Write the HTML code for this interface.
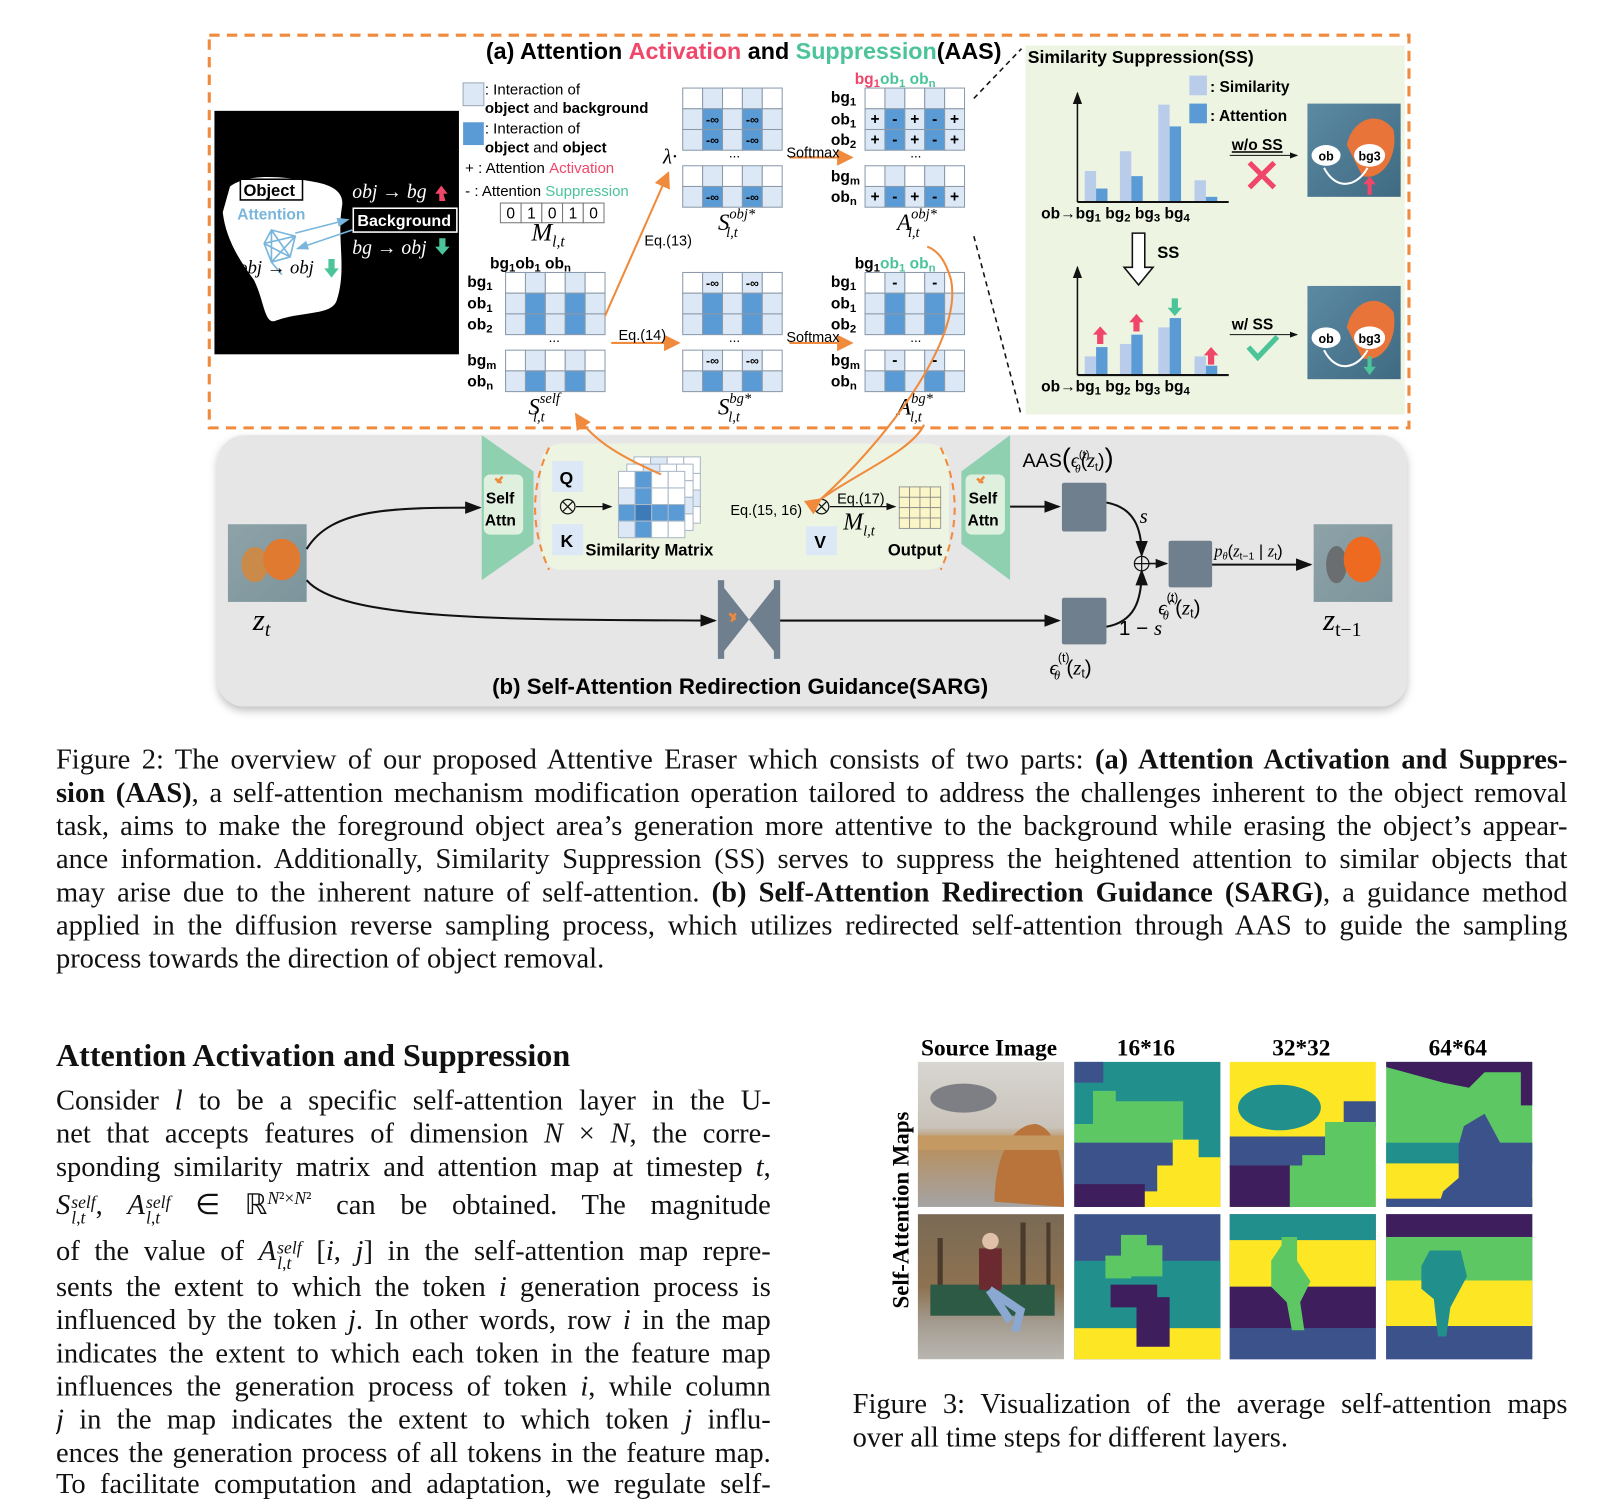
<!DOCTYPE html>
<html><head><meta charset="utf-8">
<style>
html,body{margin:0;padding:0;background:#fff;width:1624px;height:1484px;overflow:hidden}
#w{position:absolute;left:0;top:0;width:1568px;height:1432px;transform:scale(1.036);transform-origin:0 0}
.t{position:absolute;font-family:"Liberation Serif",serif;font-size:27.5px;line-height:32px;height:32px;white-space:nowrap;color:#111}
.j{text-align:justify;text-align-last:justify;white-space:normal;overflow:hidden}
i{font-style:italic}
.ss{display:inline-block;font-size:17px;line-height:15px;vertical-align:-9px;margin-left:1px}
svg text{font-family:"Liberation Sans",sans-serif}
.m{font-family:"Liberation Serif",serif;font-style:italic}
</style></head><body><div id="w">
<svg id="s" width="1568" height="1432" style="position:absolute;left:0;top:0">
<defs>
<marker id="ao" markerWidth="8" markerHeight="8" refX="7" refY="4" orient="auto"><path d="M0,0 L8,4 L0,8 z" fill="#f08a3c"/></marker>
<marker id="ab" markerWidth="8" markerHeight="8" refX="7" refY="4" orient="auto"><path d="M0,1 L8,4 L0,7 z" fill="#111"/></marker>
<marker id="al" markerWidth="8" markerHeight="8" refX="7" refY="4" orient="auto"><path d="M0,1 L8,4 L0,7 z" fill="#7ab6dc"/></marker>
<filter id="sh"><feDropShadow dx="0" dy="4" stdDeviation="4" flood-opacity="0.25"/></filter>
<linearGradient id="blu" x1="0" y1="0" x2="1" y2="1"><stop offset="0" stop-color="#5b8aa2"/><stop offset="1" stop-color="#3f6a82"/></linearGradient>
<linearGradient id="zt" x1="0" y1="0" x2="1" y2="1"><stop offset="0" stop-color="#8ea3a8"/><stop offset="1" stop-color="#7d949c"/></linearGradient>
<linearGradient id="src1" x1="0" y1="0" x2="0" y2="1"><stop offset="0" stop-color="#d8d6d2"/><stop offset="0.45" stop-color="#c9c3ba"/><stop offset="0.55" stop-color="#b98e5a"/><stop offset="1" stop-color="#a4a3a4"/></linearGradient>
<linearGradient id="src2" x1="0" y1="0" x2="0" y2="1"><stop offset="0" stop-color="#7a6a55"/><stop offset="0.5" stop-color="#8d7250"/><stop offset="0.75" stop-color="#a49c90"/><stop offset="1" stop-color="#b9b6b0"/></linearGradient>
</defs>

<rect x="202" y="34" width="1158" height="379" fill="#fff" stroke="#f08a3c" stroke-width="3" stroke-dasharray="10 7"/>
<text x="469" y="57" font-size="22.5" font-weight="bold">(a) Attention <tspan fill="#f0466a">Activation</tspan> and <tspan fill="#4cc49a">Suppression</tspan>(AAS)</text>

<rect x="207" y="107" width="236" height="235" fill="#000"/>
<path d="M222,180 C235,170 260,168 300,175 C320,178 333,185 330,200 C325,230 335,260 325,290 C320,305 290,300 265,310 C255,312 255,290 245,270 C230,250 218,230 215,205 Z" fill="#fff"/>
<rect x="232" y="173" width="60" height="20" fill="#fff" stroke="#000" stroke-width="1.5"/>
<text x="235" y="189" font-size="16" font-weight="bold">Object</text>
<text x="229" y="212" font-size="15" font-weight="bold" fill="#7ab6dc">Attention</text>
<g stroke="#7ab6dc" stroke-width="1.6" fill="none"><path d="M262,222 L285,228 L280,248 L262,253 L255,235 Z M262,222 L280,248 M262,222 L262,253 M285,228 L262,253 M285,228 L255,235 M255,235 L280,248 M262,253 L272,265"/></g>
<line x1="285" y1="225" x2="336" y2="212" stroke="#7ab6dc" stroke-width="1.5" marker-end="url(#al)"/>
<line x1="340" y1="222" x2="287" y2="240" stroke="#7ab6dc" stroke-width="1.5" marker-end="url(#al)"/>
<text x="340" y="191" font-size="19" fill="#fff" class="m">obj → bg</text>
<path d="M428,178 l-6,0 l0,-7 l-4,0 l6,-8 l6,8 l-4,0 z" fill="#f0466a" transform="translate(2,16)"/>
<rect x="341" y="201" width="100" height="23" fill="#000" stroke="#fff" stroke-width="1.5"/>
<text x="345" y="218" font-size="15.5" font-weight="bold" fill="#fff">Background</text>
<text x="340" y="245" font-size="19" fill="#fff" class="m">bg → obj</text>
<path d="M424,230 h6 v8 h4 l-7,8 l-7,-8 h4 z" fill="#4cc49a"/>
<text x="230" y="264" font-size="18" fill="#000" class="m">obj → obj</text>
<path d="M317,250 h6 v9 h4 l-7,9 l-7,-9 h4 z" fill="#4cc49a"/>

<rect x="447" y="80" width="20" height="22" fill="#dce8f5" stroke="#9aa9b8"/>
<text x="468" y="91" font-size="14.5">: Interaction of</text>
<text x="468" y="109" font-size="14.5" font-weight="bold">object <tspan font-weight="normal">and</tspan> background</text>
<rect x="447" y="118" width="20" height="22" fill="#5b9bd5"/>
<text x="468" y="129" font-size="14.5">: Interaction of</text>
<text x="468" y="147" font-size="14.5" font-weight="bold">object <tspan font-weight="normal">and</tspan> object</text>
<text x="449" y="167" font-size="14.5">+ : Attention <tspan fill="#f0466a">Activation</tspan></text>
<text x="449" y="189" font-size="14.5">- : Attention <tspan fill="#4cc49a">Suppression</tspan></text>
<g id="mbox"></g>
<text x="513" y="232" font-size="24" class="m">M<tspan font-size="15" dy="6">l,t</tspan></text>

<g id="grids"></g>

<text x="473" y="259" font-size="15" font-weight="bold">bg<tspan font-size="11" dy="3">1</tspan><tspan dy="-3">ob</tspan><tspan font-size="11" dy="3">1</tspan><tspan dy="-3"> ob</tspan><tspan font-size="11" dy="3">n</tspan></text>
<text x="825" y="81" font-size="15" font-weight="bold"><tspan fill="#f0466a">bg</tspan><tspan fill="#f0466a" font-size="11" dy="3">1</tspan><tspan dy="-3" fill="#4cc49a">ob</tspan><tspan fill="#4cc49a" font-size="11" dy="3">1</tspan><tspan dy="-3" fill="#4cc49a"> ob</tspan><tspan fill="#4cc49a" font-size="11" dy="3">n</tspan></text>
<text x="825" y="259" font-size="15" font-weight="bold">bg<tspan font-size="11" dy="3">1</tspan><tspan dy="-3" fill="#4cc49a">ob</tspan><tspan fill="#4cc49a" font-size="11" dy="3">1</tspan><tspan dy="-3" fill="#4cc49a"> ob</tspan><tspan fill="#4cc49a" font-size="11" dy="3">n</tspan></text>
<g id="rowlab" font-size="15" font-weight="bold"></g>
<text x="510" y="400" font-size="22" class="m">S<tspan font-size="14" dy="-11">self</tspan><tspan font-size="14" dx="-26" dy="18">l,t</tspan></text>
<text x="693" y="222" font-size="22" class="m">S<tspan font-size="14" dy="-11">obj*</tspan><tspan font-size="14" dx="-28" dy="18">l,t</tspan></text>
<text x="693" y="400" font-size="22" class="m">S<tspan font-size="14" dy="-11">bg*</tspan><tspan font-size="14" dx="-22" dy="18">l,t</tspan></text>
<text x="866" y="222" font-size="22" class="m">A<tspan font-size="14" dy="-11">obj*</tspan><tspan font-size="14" dx="-28" dy="18">l,t</tspan></text>
<text x="866" y="400" font-size="22" class="m">A<tspan font-size="14" dy="-11">bg*</tspan><tspan font-size="14" dx="-22" dy="18">l,t</tspan></text>

<line x1="584" y1="305" x2="645" y2="167" stroke="#f08a3c" stroke-width="2" marker-end="url(#ao)"/>
<text x="622" y="237" font-size="14">Eq.(13)</text>
<text x="640" y="158" font-size="20" class="m">λ·</text>
<line x1="590" y1="331" x2="655" y2="331" stroke="#f08a3c" stroke-width="2" marker-end="url(#ao)"/>
<text x="597" y="328" font-size="14">Eq.(14)</text>
<line x1="762" y1="152" x2="822" y2="152" stroke="#f08a3c" stroke-width="2" marker-end="url(#ao)"/>
<text x="759" y="152" font-size="14">Softmax</text>
<line x1="762" y1="331" x2="822" y2="331" stroke="#f08a3c" stroke-width="2" marker-end="url(#ao)"/>
<text x="759" y="330" font-size="14">Softmax</text>
<line x1="940" y1="95" x2="986" y2="47" stroke="#111" stroke-width="1.5" stroke-dasharray="5 4"/>
<line x1="940" y1="228" x2="985" y2="398" stroke="#111" stroke-width="1.5" stroke-dasharray="5 4"/>

<rect x="990" y="44" width="366" height="356" fill="#eef4e2"/>
<text x="992" y="61" font-size="17" font-weight="bold">Similarity Suppression(SS)</text>
<rect x="1148" y="73" width="17" height="19" fill="#b9cdea"/>
<text x="1168" y="89" font-size="15" font-weight="bold">: Similarity</text>
<rect x="1148" y="100" width="17" height="19" fill="#5b9bd5"/>
<text x="1168" y="117" font-size="15" font-weight="bold">: Attention</text>
<g id="bars"></g>
<line x1="1040" y1="195" x2="1040" y2="90" stroke="#111" stroke-width="1.5" marker-end="url(#ab)"/>
<line x1="1040" y1="195" x2="1186" y2="195" stroke="#111" stroke-width="2"/>
<line x1="1040" y1="362" x2="1040" y2="258" stroke="#111" stroke-width="1.5" marker-end="url(#ab)"/>
<line x1="1040" y1="362" x2="1186" y2="362" stroke="#111" stroke-width="2"/>
<text x="1005" y="211" font-size="15" font-weight="bold">ob→bg<tspan font-size="11" dy="3">1</tspan><tspan dy="-3"> bg</tspan><tspan font-size="11" dy="3">2</tspan><tspan dy="-3"> bg</tspan><tspan font-size="11" dy="3">3</tspan><tspan dy="-3"> bg</tspan><tspan font-size="11" dy="3">4</tspan></text>
<text x="1005" y="378" font-size="15" font-weight="bold">ob→bg<tspan font-size="11" dy="3">1</tspan><tspan dy="-3"> bg</tspan><tspan font-size="11" dy="3">2</tspan><tspan dy="-3"> bg</tspan><tspan font-size="11" dy="3">3</tspan><tspan dy="-3"> bg</tspan><tspan font-size="11" dy="3">4</tspan></text>
<text x="1189" y="145" font-size="15" font-weight="bold" text-decoration="underline">w/o SS</text>
<line x1="1187" y1="150" x2="1252" y2="150" stroke="#111" stroke-width="1" marker-end="url(#ab)"/>
<path d="M1206,157 L1230,181 M1230,157 L1206,181" stroke="#f0466a" stroke-width="5"/>
<text x="1189" y="318" font-size="15" font-weight="bold">w/ SS</text>
<line x1="1187" y1="323" x2="1252" y2="323" stroke="#111" stroke-width="1" marker-end="url(#ab)"/>
<path d="M1205,335 L1214,345 L1233,325" stroke="#4cc49a" stroke-width="5" fill="none"/>
<path d="M1093,225 h12 v33 h8 l-14,17 l-14,-17 h8 z" fill="#fff" stroke="#111" stroke-width="1.5"/>
<text x="1117" y="249" font-size="16" font-weight="bold">SS</text>
<g id="gimg"></g>

<rect x="210" y="420" width="1148" height="262" rx="26" fill="#e6e6e6" filter="url(#sh)"/>
<rect x="220" y="506" width="76" height="75" fill="url(#zt)"/>
<ellipse cx="246" cy="545" rx="13" ry="17" fill="#c98a4a"/><ellipse cx="272" cy="540" rx="18" ry="20" fill="#e07a30"/>
<text x="244" y="608" font-size="30" class="m">z<tspan font-size="19" dy="6">t</tspan></text>
<rect x="1268" y="506" width="76" height="75" fill="url(#zt)"/>
<ellipse cx="1290" cy="545" rx="10" ry="18" fill="#6a6e70"/><ellipse cx="1315" cy="540" rx="18" ry="22" fill="#ee6a20"/>
<text x="1277" y="608" font-size="30" class="m">z<tspan font-size="19" dy="6" font-style="normal">t−1</tspan></text>
<path d="M296,530 C320,490 380,490 463,490" stroke="#111" stroke-width="2" fill="none" marker-end="url(#ab)"/>
<path d="M296,560 C330,600 500,598 690,599" stroke="#111" stroke-width="2" fill="none" marker-end="url(#ab)"/>
<polygon points="465,420 515,455 515,525 465,560" fill="#8fd0b0"/>
<rect x="467" y="458" width="38" height="58" rx="6" fill="#dff0df"/>
<text x="469" y="486" font-size="15" font-weight="bold">Self</text><text x="468" y="507" font-size="15" font-weight="bold">Attn</text>
<polygon points="975,420 928,455 928,525 975,560" fill="#8fd0b0"/>
<rect x="932" y="458" width="38" height="58" rx="6" fill="#dff0df"/>
<text x="935" y="486" font-size="15" font-weight="bold">Self</text><text x="934" y="507" font-size="15" font-weight="bold">Attn</text>
<path d="M480,466 l5,-6 M478,462 l6,4" stroke="#f08a3c" stroke-width="2.5"/>
<path d="M945,466 l5,-6 M943,462 l6,4" stroke="#f08a3c" stroke-width="2.5"/>
<rect x="522" y="428" width="394" height="122" rx="20" fill="#eef4e2"/>
<path d="M530,432 C512,470 512,510 530,550" stroke="#f08a3c" stroke-width="2" stroke-dasharray="7 5" fill="none"/>
<path d="M908,432 C926,470 926,510 908,550" stroke="#f08a3c" stroke-width="2" stroke-dasharray="7 5" fill="none"/>
<rect x="533" y="445" width="30" height="30" fill="#dce8f5"/><text x="540" y="467" font-size="17" font-weight="bold">Q</text>
<rect x="533" y="506" width="30" height="30" fill="#dce8f5"/><text x="541" y="528" font-size="17" font-weight="bold">K</text>
<circle cx="548" cy="489" r="7" fill="none" stroke="#111" stroke-width="1.2"/><path d="M543,484 l10,10 M553,484 l-10,10" stroke="#111" stroke-width="1.2"/>
<line x1="556" y1="489" x2="590" y2="489" stroke="#111" stroke-width="1.2" marker-end="url(#ab)"/>
<g id="simm"></g>
<text x="565" y="536" font-size="16" font-weight="bold">Similarity Matrix</text>
<text x="705" y="497" font-size="14">Eq.(15, 16)</text>
<circle cx="793" cy="489" r="7" fill="none" stroke="#111" stroke-width="1.2"/><path d="M788,484 l10,10 M798,484 l-10,10" stroke="#111" stroke-width="1.2"/>
<rect x="778" y="508" width="30" height="28" fill="#dce8f5"/><text x="786" y="529" font-size="17" font-weight="bold">V</text>
<text x="808" y="486" font-size="14">Eq.(17)</text>
<line x1="801" y1="489" x2="864" y2="489" stroke="#111" stroke-width="1.2" marker-end="url(#ab)"/>
<text x="814" y="511" font-size="23" class="m">M<tspan font-size="14" dy="6">l,t</tspan></text>
<g id="outg"></g>
<text x="857" y="536" font-size="16" font-weight="bold">Output</text>
<line x1="975" y1="489" x2="1022" y2="489" stroke="#111" stroke-width="2" marker-end="url(#ab)"/>
<rect x="1025" y="466" width="43" height="47" rx="2" fill="#6f7f8e"/>
<rect x="1025" y="577" width="43" height="45" rx="2" fill="#6f7f8e"/>
<rect x="1128" y="522" width="42" height="45" rx="2" fill="#6f7f8e"/>
<text x="987" y="451" font-size="19" font-family="Liberation Serif,serif">AAS<tspan font-size="26">(</tspan><tspan class="m">ϵ</tspan><tspan font-size="11" dy="-9">(t)</tspan><tspan font-size="11" dx="-14" dy="14" class="m">θ</tspan><tspan dy="-5">(</tspan><tspan class="m">z</tspan><tspan font-size="11" dy="3">t</tspan><tspan dy="-3">)</tspan><tspan font-size="26">)</tspan></text>
<path d="M1068,485 C1095,490 1102,510 1102,536" stroke="#111" stroke-width="2" fill="none" marker-end="url(#ab)"/>
<path d="M1068,605 C1095,600 1102,580 1102,551" stroke="#111" stroke-width="2" fill="none" marker-end="url(#ab)"/>
<text x="1100" y="505" font-size="20" class="m">s</text>
<text x="1080" y="613" font-size="20" font-family="Liberation Serif,serif">1 − <tspan class="m">s</tspan></text>
<circle cx="1102" cy="544" r="7" fill="none" stroke="#111" stroke-width="1.2"/><path d="M1095,544 h14 M1102,537 v14" stroke="#111" stroke-width="1.2"/>
<line x1="1109" y1="544" x2="1126" y2="544" stroke="#111" stroke-width="1.5" marker-end="url(#ab)"/>
<line x1="1170" y1="545" x2="1265" y2="545" stroke="#111" stroke-width="2" marker-end="url(#ab)"/>
<text x="1172" y="537" font-size="16" font-family="Liberation Serif,serif"><tspan class="m">p</tspan><tspan font-size="10" dy="3" class="m">θ</tspan><tspan dy="-3">(</tspan><tspan class="m">z</tspan><tspan font-size="10" dy="3">t−1</tspan><tspan dy="-3"> | </tspan><tspan class="m">z</tspan><tspan font-size="10" dy="3">t</tspan><tspan dy="-3">)</tspan></text>
<text x="1118" y="593" font-size="20" font-family="Liberation Serif,serif"><tspan class="m">ϵ̂</tspan><tspan font-size="12" dy="-12">(t)</tspan><tspan font-size="12" dx="-15" dy="17" class="m">θ</tspan><tspan dy="-5" dx="6">(</tspan><tspan class="m">z</tspan><tspan font-size="12" dy="3">t</tspan><tspan dy="-3">)</tspan></text>
<text x="1013" y="651" font-size="20" font-family="Liberation Serif,serif"><tspan class="m">ϵ</tspan><tspan font-size="12" dy="-12">(t)</tspan><tspan font-size="12" dx="-15" dy="17" class="m">θ</tspan><tspan dy="-5" dx="6">(</tspan><tspan class="m">z</tspan><tspan font-size="12" dy="3">t</tspan><tspan dy="-3">)</tspan></text>
<polygon points="693,560 723,598 693,636" fill="#6f7f8e"/><polygon points="753,560 723,598 753,636" fill="#6f7f8e"/>
<rect x="693" y="560" width="6" height="76" fill="#6f7f8e"/><rect x="747" y="560" width="6" height="76" fill="#6f7f8e"/>
<path d="M704,592 l6,6 M710,592 l-4,8" stroke="#f08a3c" stroke-width="2.5"/>
<line x1="753" y1="599" x2="1022" y2="599" stroke="#111" stroke-width="2" marker-end="url(#ab)"/>
<text x="475" y="670" font-size="21.5" font-weight="bold">(b) Self-Attention Redirection Guidance(SARG)</text>
<path d="M638,458 C610,445 575,430 556,400" stroke="#f08a3c" stroke-width="2" fill="none" marker-end="url(#ao)"/>
<path d="M792,482 C850,430 930,330 918,270 C912,250 905,242 895,238" stroke="#f08a3c" stroke-width="2" fill="none"/>
<path d="M792,482 C830,455 880,435 892,410" stroke="#f08a3c" stroke-width="2" fill="none" marker-start="url(#ao)"/>

<text x="889" y="1019" font-size="22.5" font-weight="bold" style="font-family:'Liberation Serif',serif">Source Image</text>
<text x="1078" y="1019" font-size="22.5" font-weight="bold" style="font-family:'Liberation Serif',serif">16*16</text>
<text x="1228" y="1019" font-size="22.5" font-weight="bold" style="font-family:'Liberation Serif',serif">32*32</text>
<text x="1379" y="1019" font-size="22.5" font-weight="bold" style="font-family:'Liberation Serif',serif">64*64</text>
<text transform="translate(877,1168) rotate(-90)" text-anchor="middle" font-size="22" font-weight="bold" style="font-family:'Liberation Serif',serif">Self-Attention Maps</text>
<rect x="886" y="1025" width="141" height="140" fill="url(#src1)"/>
<ellipse cx="930" cy="1060" rx="32" ry="14" fill="#7d7f85"/>
<path d="M960,1160 C960,1120 975,1085 1000,1085 C1020,1090 1027,1120 1027,1165 Z" fill="#b8743a"/>
<rect x="886" y="1096" width="141" height="14" fill="#c49a62"/>
<rect x="886" y="1172" width="141" height="140" fill="url(#src2)"/>
<rect x="905" y="1195" width="5" height="60" fill="#4a3b2d"/><rect x="985" y="1180" width="5" height="70" fill="#4a3b2d"/><rect x="1010" y="1180" width="4" height="70" fill="#4a3b2d"/>
<rect x="898" y="1240" width="120" height="30" fill="#2d5a45"/>
<rect x="945" y="1205" width="22" height="40" fill="#6a2a30"/>
<circle cx="956" cy="1198" r="8" fill="#e0c0a8"/>
<path d="M955,1245 l30,20 l-5,20 M955,1245 l20,30" stroke="#8aa8d0" stroke-width="8" fill="none"/>
<g id="maps"></g>
</svg>

<div class="t j" style="left:54px;top:717px;width:1459px">Figure 2: The overview of our proposed Attentive Eraser which consists of two parts: <b>(a) Attention Activation and Suppres-</b></div>
<div class="t j" style="left:54px;top:749px;width:1459px"><b>sion (AAS)</b>, a self-attention mechanism modification operation tailored to address the challenges inherent to the object removal</div>
<div class="t j" style="left:54px;top:781px;width:1459px">task, aims to make the foreground object area’s generation more attentive to the background while erasing the object’s appear-</div>
<div class="t j" style="left:54px;top:813px;width:1459px">ance information. Additionally, Similarity Suppression (SS) serves to suppress the heightened attention to similar objects that</div>
<div class="t j" style="left:54px;top:845px;width:1459px">may arise due to the inherent nature of self-attention. <b>(b) Self-Attention Redirection Guidance (SARG)</b>, a guidance method</div>
<div class="t j" style="left:54px;top:877px;width:1459px">applied in the diffusion reverse sampling process, which utilizes redirected self-attention through AAS to guide the sampling</div>
<div class="t" style="left:54px;top:909px">process towards the direction of object removal.</div>

<div class="t" style="left:54px;top:1003px;font-size:31px;font-weight:bold">Attention Activation and Suppression</div>
<div class="t j" style="left:54px;top:1046px;width:690px">Consider <i>l</i> to be a specific self-attention layer in the U-</div>
<div class="t j" style="left:54px;top:1078px;width:690px">net that accepts features of dimension <i>N</i> × <i>N</i>, the corre-</div>
<div class="t j" style="left:54px;top:1110px;width:690px">sponding similarity matrix and attention map at timestep <i>t</i>,</div>
<div class="t j" style="left:54px;top:1147px;width:690px;height:36px"><i>S</i><span class="ss"><i>self</i><br><i>l,t</i></span>, <i>A</i><span class="ss"><i>self</i><br><i>l,t</i></span> ∈ ℝ<span style="font-size:17px;vertical-align:10px;line-height:0"><i>N</i>²×<i>N</i>²</span> can be obtained. The magnitude</div>
<div class="t j" style="left:54px;top:1191px;width:690px;height:36px">of the value of <i>A</i><span class="ss"><i>self</i><br><i>l,t</i></span> [<i>i</i>, <i>j</i>] in the self-attention map repre-</div>
<div class="t j" style="left:54px;top:1226px;width:690px">sents the extent to which the token <i>i</i> generation process is</div>
<div class="t j" style="left:54px;top:1258px;width:690px">influenced by the token <i>j</i>. In other words, row <i>i</i> in the map</div>
<div class="t j" style="left:54px;top:1290px;width:690px">indicates the extent to which each token in the feature map</div>
<div class="t j" style="left:54px;top:1322px;width:690px">influences the generation process of token <i>i</i>, while column</div>
<div class="t j" style="left:54px;top:1354px;width:690px"><i>j</i> in the map indicates the extent to which token <i>j</i> influ-</div>
<div class="t j" style="left:54px;top:1386px;width:690px">ences the generation process of all tokens in the feature map.</div>
<div class="t j" style="left:54px;top:1416px;width:690px">To facilitate computation and adaptation, we regulate self-</div>

<div class="t j" style="left:823px;top:1339px;width:690px">Figure 3: Visualization of the average self-attention maps</div>
<div class="t" style="left:823px;top:1371px">over all time steps for different layers.</div>
</div>
<script>
var NS="http://www.w3.org/2000/svg";
function el(p,t,a,txt){var e=document.createElementNS(NS,t);for(var k in a)e.setAttribute(k,a[k]);if(txt!==undefined)e.textContent=txt;document.getElementById(p).appendChild(e);return e;}
var W='#ffffff',L='#dce8f5',D='#5b9bd5',S='#8a9aab';
var cw=19.2,rh=20;
function grid(x,y,rows,marks){rows.forEach(function(r,ri){r.forEach(function(c,ci){el('grids','rect',{x:x+ci*cw,y:y+ri*rh,width:cw,height:rh,fill:c,stroke:S,'stroke-width':1});var m=marks&&marks[ri]&&marks[ri][ci];if(m)el('grids','text',{x:x+ci*cw+cw/2,y:y+ri*rh+14.5,'font-size':m.length>1?12:15,'font-weight':'bold','text-anchor':'middle'},m);});});}
var bgR=[W,L,W,L,W],obR=[L,D,L,D,L];
grid(488,263,[bgR,obR,obR]);grid(488,338,[bgR,obR]);
var inf=[null,'-∞',null,'-∞',null];
grid(659,85,[bgR,obR,obR],[null,inf,inf]);grid(659,160,[bgR,obR],[null,inf]);
grid(659,263,[bgR,obR,obR],[inf,null,null]);grid(659,338,[bgR,obR],[inf,null]);
var pm=['+','-','+','-','+'];
grid(835,85,[bgR,obR,obR],[null,pm,pm]);grid(835,160,[bgR,obR],[null,pm]);
var mm=[null,'-',null,'-',null];
grid(835,263,[bgR,obR,obR],[mm,null,null]);grid(835,338,[bgR,obR],[mm,null]);
[[535,330],[709,152],[884,152],[709,330],[884,330]].forEach(function(p){el('grids','text',{x:p[0],y:p[1],'font-size':13,'text-anchor':'middle'},'...');});
function rl(x,ys,labs){ys.forEach(function(y,i){var t=el('rowlab','text',{x:x,y:y});var a=document.createElementNS(NS,'tspan');a.textContent=labs[i][0];t.appendChild(a);var b=document.createElementNS(NS,'tspan');b.setAttribute('font-size','11');b.setAttribute('dy','3');b.textContent=labs[i][1];t.appendChild(b);});}
var labs=[['bg','1'],['ob','1'],['ob','2'],['bg','m'],['ob','n']];
rl(451,[277,298,318,353,373],labs);
rl(802,[277,298,318,353,373],labs);
rl(802,[99,120,140,175,195],labs);
['0','1','0','1','0'].forEach(function(v,i){el('mbox','rect',{x:483+i*20,y:196,width:20,height:19,fill:'#fff',stroke:'#777'});el('mbox','text',{x:493+i*20,y:211,'font-size':15,'text-anchor':'middle'},v);});
var LB='#b9cdea',DB='#5b9bd5';
var b1=[[165,182],[146,170],[101,122],[174,190]],b2=[[344,335],[332,323],[316,307],[344,353]],bx=[1047,1081,1118,1153];
bx.forEach(function(x,i){el('bars','rect',{x:x,y:b1[i][0],width:11,height:195-b1[i][0],fill:LB});el('bars','rect',{x:x+11,y:b1[i][1],width:11,height:195-b1[i][1],fill:DB});
el('bars','rect',{x:x,y:b2[i][0],width:11,height:362-b2[i][0],fill:LB});el('bars','rect',{x:x+11,y:b2[i][1],width:11,height:362-b2[i][1],fill:DB});});
function up(x,y,c){el('bars','path',{d:'M'+(x-3)+','+(y)+' v-9 h-4 l7,-8 l7,8 h-4 v9 z',fill:c});}
function dn(x,y,c){el('bars','path',{d:'M'+(x-3)+','+(y)+' v9 h-4 l7,8 l7,-8 h-4 v-9 z',fill:c});}
up(1062,332,'#f0466a');up(1097,320,'#f0466a');dn(1134,288,'#4cc49a');up(1169,352,'#f0466a');
[100,276].forEach(function(y,k){el('gimg','rect',{x:1262,y:y,width:90,height:90,fill:'url(#blu)'});
el('gimg','path',{d:'M1300,'+(y+40)+' C1305,'+(y+15)+' 1330,'+(y+5)+' 1345,'+(y+25)+' C1350,'+(y+50)+' 1335,'+(y+75)+' 1315,'+(y+70)+' Z',fill:'#e8743a'});
el('gimg','ellipse',{cx:1280,cy:y+50,rx:14,ry:10,fill:'#fff'});el('gimg','text',{x:1280,y:y+55,'font-size':12,'font-weight':'bold','text-anchor':'middle'},'ob');
el('gimg','ellipse',{cx:1322,cy:y+50,rx:15,ry:11,fill:'#fff'});el('gimg','text',{x:1322,y:y+55,'font-size':12,'font-weight':'bold','text-anchor':'middle'},'bg3');
el('gimg','path',{d:'M1278,'+(y+62)+' C1290,'+(y+85)+' 1310,'+(y+80)+' 1320,'+(y+62),stroke:'#fff','stroke-width':2,fill:'none'});
if(k==0)el('gimg','path',{d:'M1320,'+(y+88)+' v-10 h-4 l6,-8 l6,8 h-4 v10 z',fill:'#f0466a'});else el('gimg','path',{d:'M1320,'+(y+68)+' v10 h-4 l6,8 l6,-8 h-4 v-10 z',fill:'#4cc49a'});});
function sg(x,y,cols){for(var r=0;r<4;r++)for(var c=0;c<4;c++){el('simm','rect',{x:x+c*16,y:y+r*16,width:16,height:16,fill:cols(r,c),stroke:'#aab8c6','stroke-width':1});}}
sg(612,441,function(r,c){return (c==1||r==2)?'#dce8f5':'#fff';});
sg(605,448,function(r,c){return (c==1||r==2)?'#dce8f5':'#fff';});
sg(597,455,function(r,c){if(c==1&&r==2)return '#3d7ab8';if(c==1||r==2)return '#5b9bd5';return (r==1&&c==0)||(r==3&&c==0)?'#dce8f5':'#fff';});
for(var r=0;r<4;r++)for(var c=0;c<4;c++)el('outg','rect',{x:868+c*10,y:470+r*10,width:10,height:10,fill:'#fbf6c8',stroke:'#888','stroke-width':0.8});
var P='#3f1e5e',B='#3b528b',T='#21908d',G='#5dc863',Y='#fde725';
function map(ox,oy,shapes){shapes.forEach(function(s){if(s[0]=='r')el('maps','rect',{x:ox+s[1],y:oy+s[2],width:s[3],height:s[4],fill:s[5]});else if(s[0]=='p'){var pts=s[1].map(function(p,i){return i%2?oy+p:ox+p;});var str='';for(var i=0;i<pts.length;i+=2)str+=pts[i]+','+pts[i+1]+' ';el('maps','polygon',{points:str,fill:s[2]});}else if(s[0]=='e')el('maps','ellipse',{cx:ox+s[1],cy:oy+s[2],rx:s[3],ry:s[4],fill:s[5]});});}
var X=[1037,1187,1338],Yr=[1025,1172];
map(X[0],Yr[0],[['r',0,0,141,140,T],['r',0,0,28,20,B],['p',[18,28,40,28,40,38,105,38,105,75,95,75,95,78,0,78,0,60,18,60],G],['r',0,78,95,62,B],['p',[95,75,120,75,120,92,141,92,141,140,65,140,65,125,80,125,80,100,95,100],Y],['r',0,118,68,22,P]]);
map(X[1],Yr[0],[['r',0,0,141,140,Y],['e',48,44,40,22,T],['r',110,38,31,25,B],['r',0,72,95,30,B],['r',0,100,70,40,P],['p',[92,58,141,58,141,140,58,140,58,100,70,100,70,90,92,90],G]]);
map(X[2],Yr[0],[['r',0,0,141,140,G],['p',[0,0,141,0,141,42,130,42,130,10,95,10,80,25,55,20,0,5],P],['r',0,78,141,20,T],['r',0,98,141,42,Y],['p',[75,62,95,50,110,78,141,78,141,140,50,140,55,125,70,112,70,80],B],['r',0,132,141,8,B]]);
map(X[0],Yr[1],[['r',0,0,141,140,B],['r',0,45,141,65,T],['p',[45,20,70,20,70,30,85,30,85,60,55,60,55,62,30,62,30,40,45,40],G],['r',0,110,141,30,Y],['p',[35,68,80,68,80,80,92,80,92,128,60,128,60,90,35,90],P]]);
map(X[1],Yr[1],[['r',0,0,141,140,B],['r',0,0,141,25,T],['r',0,25,141,45,Y],['p',[0,70,141,70,141,110,0,110],P],['r',0,110,141,30,B],['p',[50,22,65,22,65,45,78,65,68,85,72,112,60,112,55,85,40,70,40,45,50,30],G]]);
map(X[2],Yr[1],[['r',0,0,141,140,B],['r',0,0,141,22,P],['r',0,22,141,42,G],['r',0,64,141,44,Y],['r',0,108,141,32,B],['p',[42,35,72,35,78,60,62,90,58,118,50,118,46,82,34,72,34,50],T]]);
</script>
</body></html>
